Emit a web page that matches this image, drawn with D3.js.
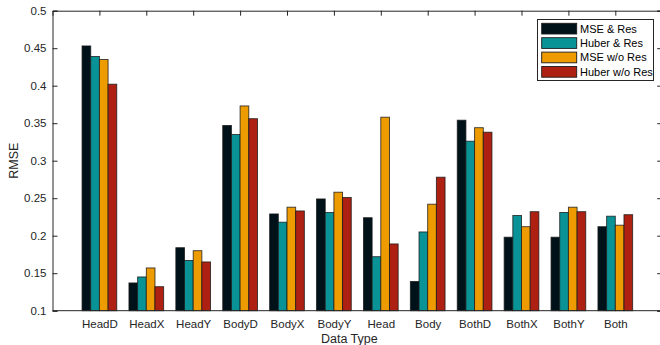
<!DOCTYPE html>
<html><head><meta charset="utf-8">
<script src="https://cdn.jsdelivr.net/npm/d3@7"></script>
<style>
html,body{margin:0;padding:0;background:#fff;}
svg{display:block;font-family:"Liberation Sans",Arial,sans-serif;}
</style></head>
<body>
<svg id="chart" width="660" height="345"></svg>
<script>
const categories = ["HeadD","HeadX","HeadY","BodyD","BodyX","BodyY","Head","Body","BothD","BothX","BothY","Both"];
const seriesNames = ["MSE & Res","Huber & Res","MSE w/o Res","Huber w/o Res"];
const mseRes    = [0.453,0.137,0.184,0.347,0.229,0.249,0.224,0.139,0.354,0.198,0.198,0.212];
const huberRes  = [0.439,0.145,0.167,0.335,0.218,0.231,0.172,0.205,0.326,0.227,0.231,0.226];
const mseNoRes  = [0.435,0.157,0.180,0.373,0.238,0.258,0.358,0.242,0.344,0.212,0.238,0.214];
const huberNoRes= [0.402,0.132,0.165,0.356,0.233,0.251,0.189,0.278,0.338,0.232,0.232,0.228];
const yTicks = [0.1,0.15,0.2,0.25,0.3,0.35,0.4,0.45,0.5];
const colors = ["#001219","#0a9396","#ee9b00","#ae2012"];
const series = [mseRes,huberRes,mseNoRes,huberNoRes];

const svg = d3.select("#chart");
const L = 52.5, T = 10.7, B = 310.7, step = 46.9;
const R = L + 13*step;
const x = d3.scaleLinear().domain([0,13]).range([L,R]);
const y = d3.scaleLinear().domain([0.1,0.5]).range([B,T]);
const axisColor = "#262626";
const groupW = 0.74;
const barW = groupW/4;

// bars
series.forEach((vals,si)=>{
  svg.append("g").selectAll("rect").data(vals).enter().append("rect")
    .attr("x",(d,i)=>x(i+1 - groupW/2 + si*barW))
    .attr("width",x(barW)-x(0))
    .attr("y",d=>y(d))
    .attr("height",d=>y(0.1)-y(d))
    .attr("fill",colors[si])
    .attr("stroke","#1a1a1a")
    .attr("stroke-opacity",0.85)
    .attr("stroke-width",0.9);
});

// axes
const gl = svg.append("g").attr("transform",`translate(${L},0)`)
  .call(d3.axisLeft(y).tickValues(yTicks).tickSize(-5).tickPadding(6).tickFormat(d=>d3.format("")(+d.toFixed(2))));
const gr = svg.append("g").attr("transform",`translate(${R},0)`)
  .call(d3.axisRight(y).tickValues(yTicks).tickSize(-5).tickFormat(""));
const gb = svg.append("g").attr("transform",`translate(0,${B})`)
  .call(d3.axisBottom(x).tickValues(d3.range(1,13)).tickSize(0).tickPadding(9).tickFormat(d=>categories[d-1]));
const gt = svg.append("g").attr("transform",`translate(0,${T})`)
  .call(d3.axisTop(x).tickValues(d3.range(1,13)).tickSize(-5).tickFormat(""));
[gl,gr,gb,gt].forEach(g=>{
  g.select(".domain").attr("stroke",axisColor).attr("stroke-width",1);
  g.selectAll(".tick line").attr("stroke",axisColor);
  g.selectAll("text").attr("fill",axisColor).style("font-size","11.5px").style("font-family","'Liberation Sans',Arial,sans-serif");
});
gb.select(".domain").attr("d",`M${L},0H${R}`);

// axis labels
svg.append("text").attr("x",(L+R)/2 - 8).attr("y",343).attr("text-anchor","middle")
  .attr("fill",axisColor).style("font-size","12.5px").text("Data Type");
svg.append("text").attr("transform",`translate(18,${(T+B)/2}) rotate(-90)`).attr("text-anchor","middle")
  .attr("fill",axisColor).style("font-size","12.5px").text("RMSE");

// legend
const lg = svg.append("g");
lg.append("rect").attr("x",537.5).attr("y",19.5).attr("width",116).attr("height",61)
  .attr("fill","#fff").attr("stroke",axisColor).attr("stroke-width",1);
seriesNames.forEach((n,i)=>{
  const yy = 23.3 + i*14.4;
  lg.append("rect").attr("x",541.7).attr("y",yy).attr("width",35).attr("height",10.7)
    .attr("fill",colors[i]).attr("stroke","#1a1a1a").attr("stroke-width",0.9);
  lg.append("text").attr("x",580).attr("y",yy+5.5).attr("dy","0.35em")
    .attr("fill","#000").style("font-size","11px").text(n);
});
</script>
</body></html>
